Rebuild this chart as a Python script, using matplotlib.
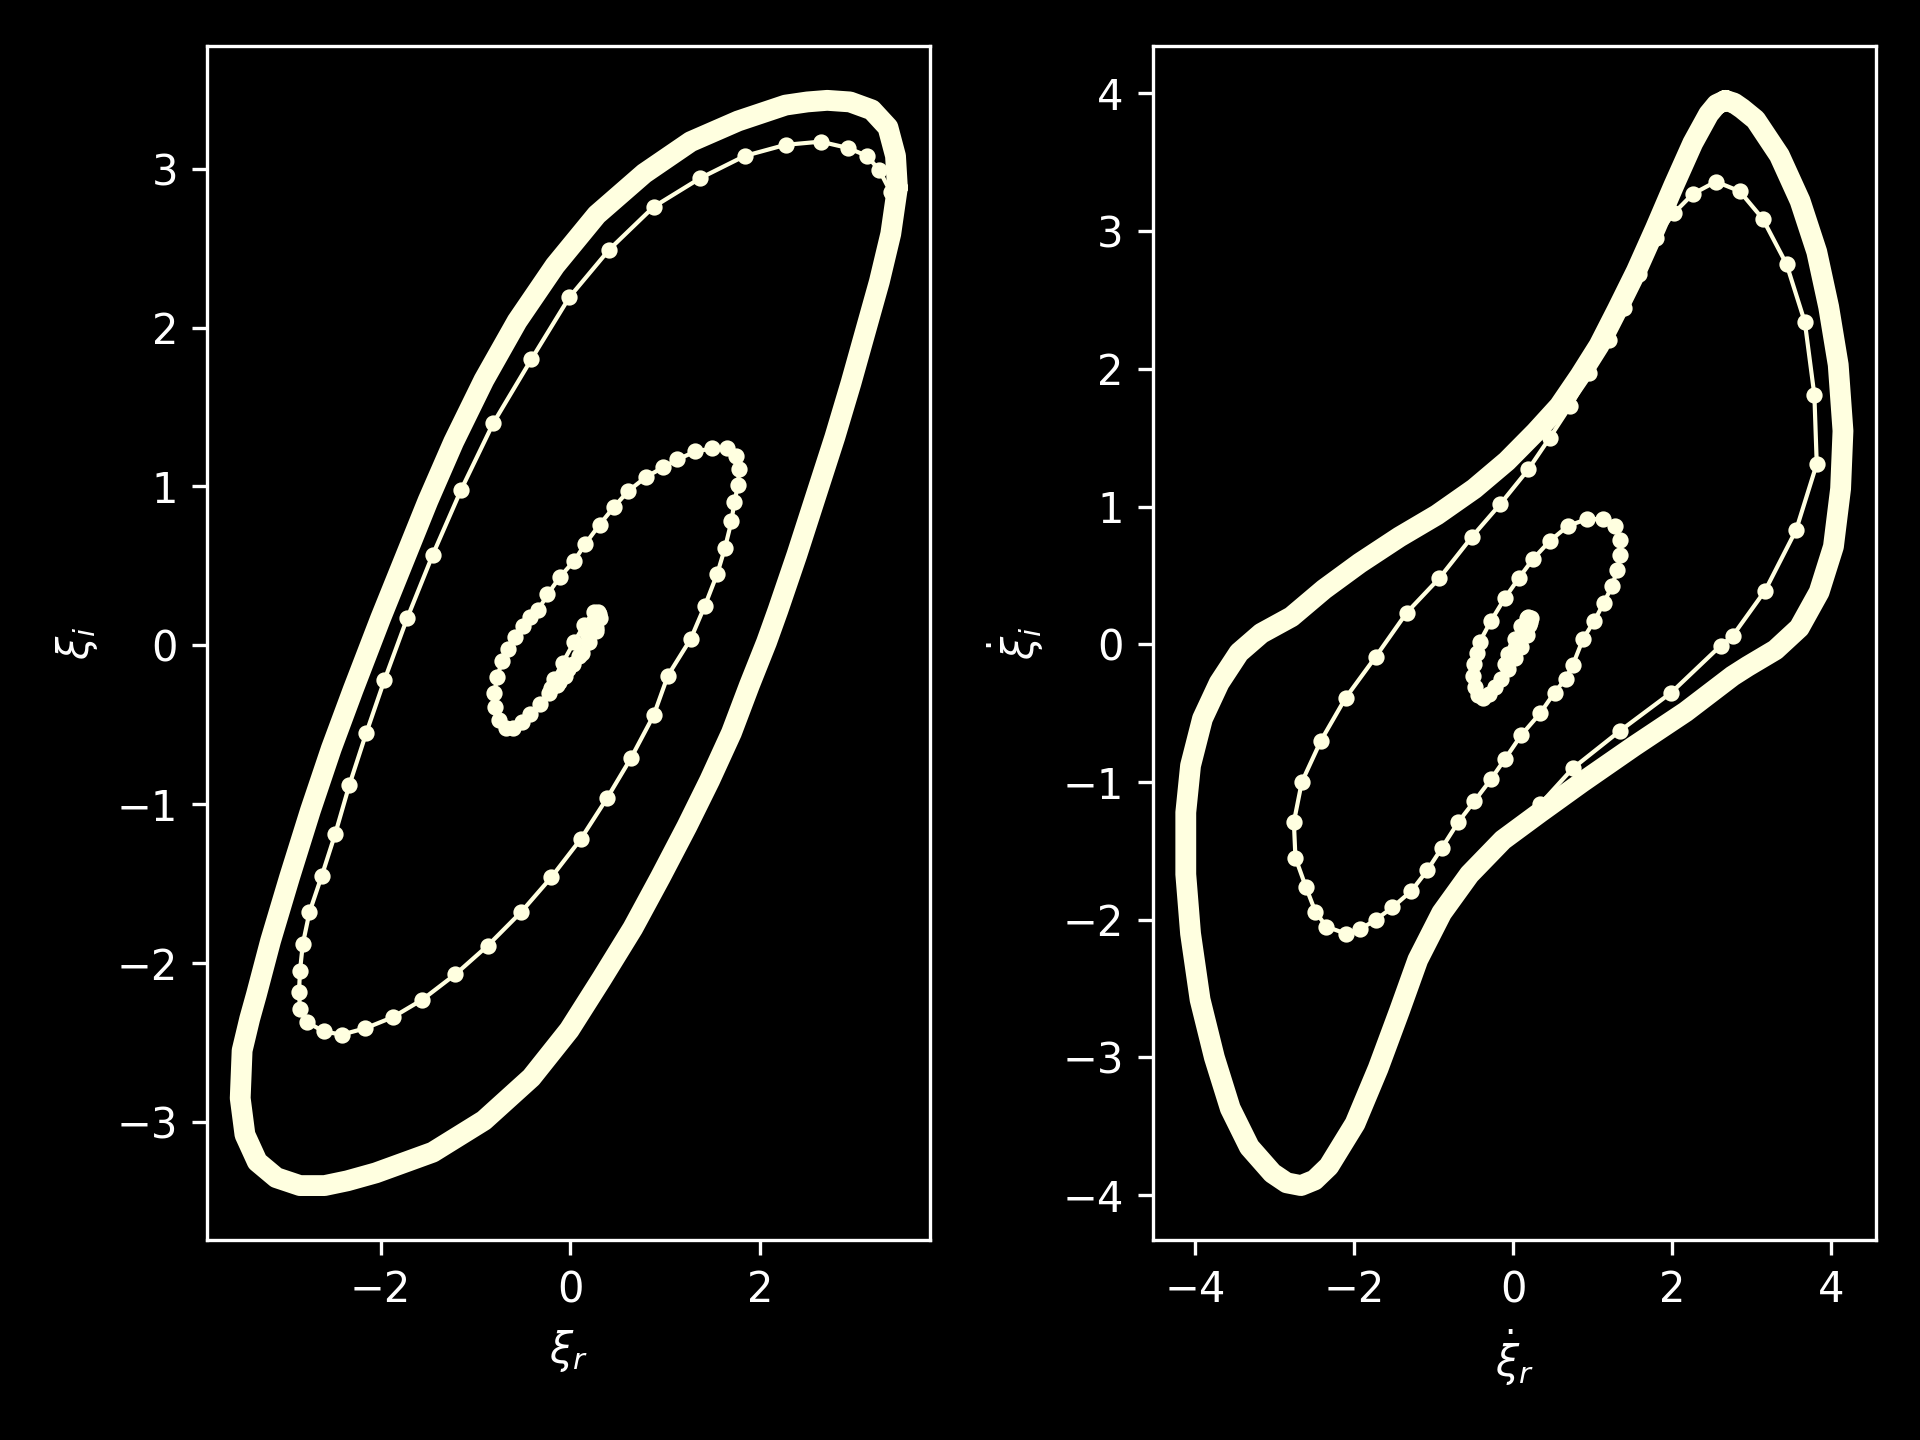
import numpy as np
import matplotlib.pyplot as plt

plt.style.use('dark_background')

# ---- left panel: xi_r vs xi_i ----
# transient spiral, from the start near the origin out to the limit cycle
xr_trans = [0.18, 0.24, 0.29, 0.31, 0.27, 0.20, 0.12, 0.03, -0.06, -0.14, -0.20, -0.17,
            -0.08, 0.04, 0.15, 0.25, 0.30, 0.27, 0.19, 0.09, -0.02, -0.12, -0.22, -0.32,
            -0.42, -0.51, -0.60, -0.68, -0.75, -0.79, -0.80, -0.77, -0.72, -0.66, -0.58,
            -0.50, -0.42,
            -0.34, -0.24, -0.11, 0.04, 0.16, 0.31, 0.46, 0.61, 0.80, 0.98, 1.13, 1.32, 1.50,
            1.65, 1.75, 1.78, 1.77, 1.73, 1.70, 1.63, 1.55, 1.42, 1.27, 1.03, 0.88, 0.64,
            0.39, 0.11, -0.20, -0.52, -0.87, -1.21, -1.56, -1.87, -2.16, -2.41, -2.60, -2.78,
            -2.85, -2.86, -2.85, -2.82, -2.75, -2.62, -2.48, -2.33, -2.15, -1.96, -1.72,
            -1.45, -1.15, -0.81, -0.41, -0.01, 0.41, 0.88, 1.37, 1.84, 2.27, 2.64, 2.93,
            3.13, 3.26, 3.38]
xi_trans = [0.08, 0.15, 0.21, 0.17, 0.09, 0.02, -0.05, -0.12, -0.19, -0.25, -0.27, -0.21,
            -0.11, 0.02, 0.13, 0.21, 0.20, 0.11, 0.02, -0.07, -0.15, -0.23, -0.30, -0.37,
            -0.43, -0.48, -0.52, -0.52, -0.47, -0.39, -0.30, -0.20, -0.10, -0.02, 0.05,
            0.12, 0.18,
            0.22, 0.32, 0.43, 0.53, 0.64, 0.76, 0.87, 0.97, 1.06, 1.12, 1.17, 1.22, 1.24,
            1.24, 1.19, 1.11, 1.01, 0.90, 0.78, 0.61, 0.45, 0.25, 0.04, -0.19, -0.44, -0.71,
            -0.96, -1.22, -1.46, -1.68, -1.89, -2.07, -2.23, -2.34, -2.41, -2.45, -2.43, -2.37,
            -2.29, -2.18, -2.05, -1.88, -1.68, -1.45, -1.19, -0.88, -0.55, -0.22, 0.17,
            0.57, 0.98, 1.40, 1.80, 2.19, 2.49, 2.76, 2.94, 3.08, 3.15, 3.17, 3.13,
            3.08, 2.99, 2.85]
# limit cycle (thick band)
xr_cycle = [3.45, 3.38, 3.26, 3.11, 2.96, 2.79, 2.59, 2.39, 2.19, 2.07, 1.89, 1.70, 1.47,
            1.23, 0.95, 0.66, 0.33, -0.01, -0.41, -0.91, -1.45, -2.05, -2.35, -2.59, -2.85,
            -3.10, -3.30, -3.43, -3.48, -3.46, -3.38, -3.31, -3.16, -2.96, -2.74, -2.52,
            -2.29, -2.00, -1.75, -1.50, -1.23, -0.91, -0.56, -0.16, 0.28, 0.78, 1.27, 1.77,
            2.27, 2.50, 2.71, 2.95, 3.18, 3.35, 3.43, 3.45]
xi_cycle = [2.88, 2.59, 2.29, 1.97, 1.65, 1.31, 0.94, 0.57, 0.22, 0.02, -0.25, -0.55, -0.85,
            -1.14, -1.46, -1.78, -2.10, -2.42, -2.72, -2.99, -3.19, -3.32, -3.37, -3.40, -3.40,
            -3.35, -3.25, -3.08, -2.85, -2.55, -2.35, -2.20, -1.86, -1.46, -1.04, -0.65,
            -0.28, 0.17, 0.54, 0.91, 1.28, 1.67, 2.04, 2.39, 2.71, 2.97, 3.17, 3.30,
            3.40, 3.42, 3.43, 3.42, 3.37, 3.26, 3.08, 2.88]

# ---- right panel: d(xi_r)/dt vs d(xi_i)/dt ----
dxr_trans = [0.16, 0.20, 0.22, 0.19, 0.14, 0.08, 0.02, -0.05, -0.10, -0.07, 0.02, 0.10,
             0.17, 0.21, 0.17, 0.10, 0.02, -0.07, -0.15, -0.23, -0.31, -0.38, -0.44, -0.48,
             -0.50, -0.49, -0.46, -0.42,
             -0.28, -0.10, 0.07, 0.25, 0.46, 0.69, 0.93, 1.13, 1.28, 1.35, 1.35, 1.31, 1.24,
             1.14, 1.02, 0.88, 0.75, 0.66, 0.52, 0.34, 0.10, -0.10, -0.28, -0.49, -0.69,
             -0.90, -1.08, -1.28, -1.52, -1.73, -1.93, -2.11, -2.35, -2.49, -2.61, -2.74,
             -2.76, -2.66, -2.42, -2.11, -1.73, -1.34, -0.93, -0.52, -0.16, 0.19, 0.46,
             0.72, 0.96, 1.20, 1.39, 1.58, 1.80, 2.02, 2.26, 2.55, 2.85, 3.14, 3.44, 3.67,
             3.79, 3.82, 3.56, 3.17, 2.76, 2.61, 1.99, 1.34, 0.75, 0.34]
dxi_trans = [0.08, 0.14, 0.19, 0.20, 0.13, 0.05, -0.03, -0.10, -0.14, -0.07, 0.04, 0.13,
             0.19, 0.16, 0.07, -0.02, -0.10, -0.18, -0.25, -0.31, -0.36, -0.39, -0.37, -0.31,
             -0.23, -0.14, -0.06, 0.02,
             0.17, 0.34, 0.48, 0.62, 0.75, 0.86, 0.91, 0.91, 0.86, 0.76, 0.65, 0.54, 0.42,
             0.30, 0.17, 0.04, -0.15, -0.25, -0.35, -0.50, -0.66, -0.83, -0.98, -1.14, -1.29,
             -1.48, -1.64, -1.79, -1.91, -2.00, -2.07, -2.10, -2.05, -1.94, -1.76, -1.55,
             -1.29, -1.00, -0.70, -0.39, -0.09, 0.23, 0.48, 0.78, 1.02, 1.27, 1.50,
             1.73, 1.97, 2.21, 2.44, 2.69, 2.95, 3.13, 3.27, 3.36, 3.29, 3.09, 2.76, 2.34,
             1.81, 1.31, 0.83, 0.39, 0.06, -0.01, -0.35, -0.63, -0.90, -1.16]
dxr_cycle = [2.67, 2.78, 2.88, 3.05, 3.35, 3.61, 3.82, 3.97, 4.09, 4.15, 4.12, 4.03, 3.85,
             3.60, 3.30, 2.95, 2.76, 2.17, 1.52, 0.87, 0.34, -0.13, -0.55, -0.90, -1.20,
             -1.43, -1.70, -1.99, -2.32, -2.50, -2.67, -2.85, -3.03, -3.32, -3.56, -3.76,
             -3.94, -4.06, -4.12, -4.12, -4.06, -3.91, -3.70, -3.45, -3.17, -2.79, -2.38,
             -1.93, -1.43, -0.96, -0.49, -0.08, 0.28, 0.58, 0.84, 1.08, 1.31, 1.55, 1.79,
             2.02, 2.26, 2.46, 2.56, 2.67]
dxi_cycle = [3.95, 3.93, 3.89, 3.81, 3.55, 3.22, 2.85, 2.45, 2.03, 1.55, 1.13, 0.71, 0.38,
             0.12, -0.04, -0.16, -0.23, -0.49, -0.74, -1.00, -1.22, -1.42, -1.67, -1.95, -2.29,
             -2.66, -3.08, -3.48, -3.79, -3.89, -3.93, -3.91, -3.84, -3.65, -3.37, -3.00,
             -2.58, -2.10, -1.67, -1.22, -0.88, -0.54, -0.28, -0.06, 0.08, 0.20, 0.40,
             0.59, 0.78, 0.94, 1.13, 1.33, 1.54, 1.73, 1.95, 2.17, 2.43, 2.71, 3.02,
             3.33, 3.64, 3.85, 3.92, 3.95]

color = 'lightyellow'

fig, (ax1, ax2) = plt.subplots(1, 2, figsize=(6.4, 4.8), dpi=300)

ax1.plot(xr_cycle, xi_cycle, color=color, lw=5, solid_joinstyle='round',
         solid_capstyle='round')
ax1.plot(xr_trans, xi_trans, color=color, lw=1, marker='o', ms=2.9)
ax1.set_xlabel(r'$\xi_r$')
ax1.set_ylabel(r'$\xi_i$')

ax2.plot(dxr_cycle, dxi_cycle, color=color, lw=5, solid_joinstyle='round',
         solid_capstyle='round')
ax2.plot(dxr_trans, dxi_trans, color=color, lw=1, marker='o', ms=2.9)
ax2.set_xlabel(r'$\dot{\xi}_r$')
ax2.set_ylabel(r'$\dot{\xi}_i$')

fig.subplots_adjust(left=0.108, right=0.977, bottom=0.139, top=0.968, wspace=0.308)
fig.savefig('out.png', dpi=300)
